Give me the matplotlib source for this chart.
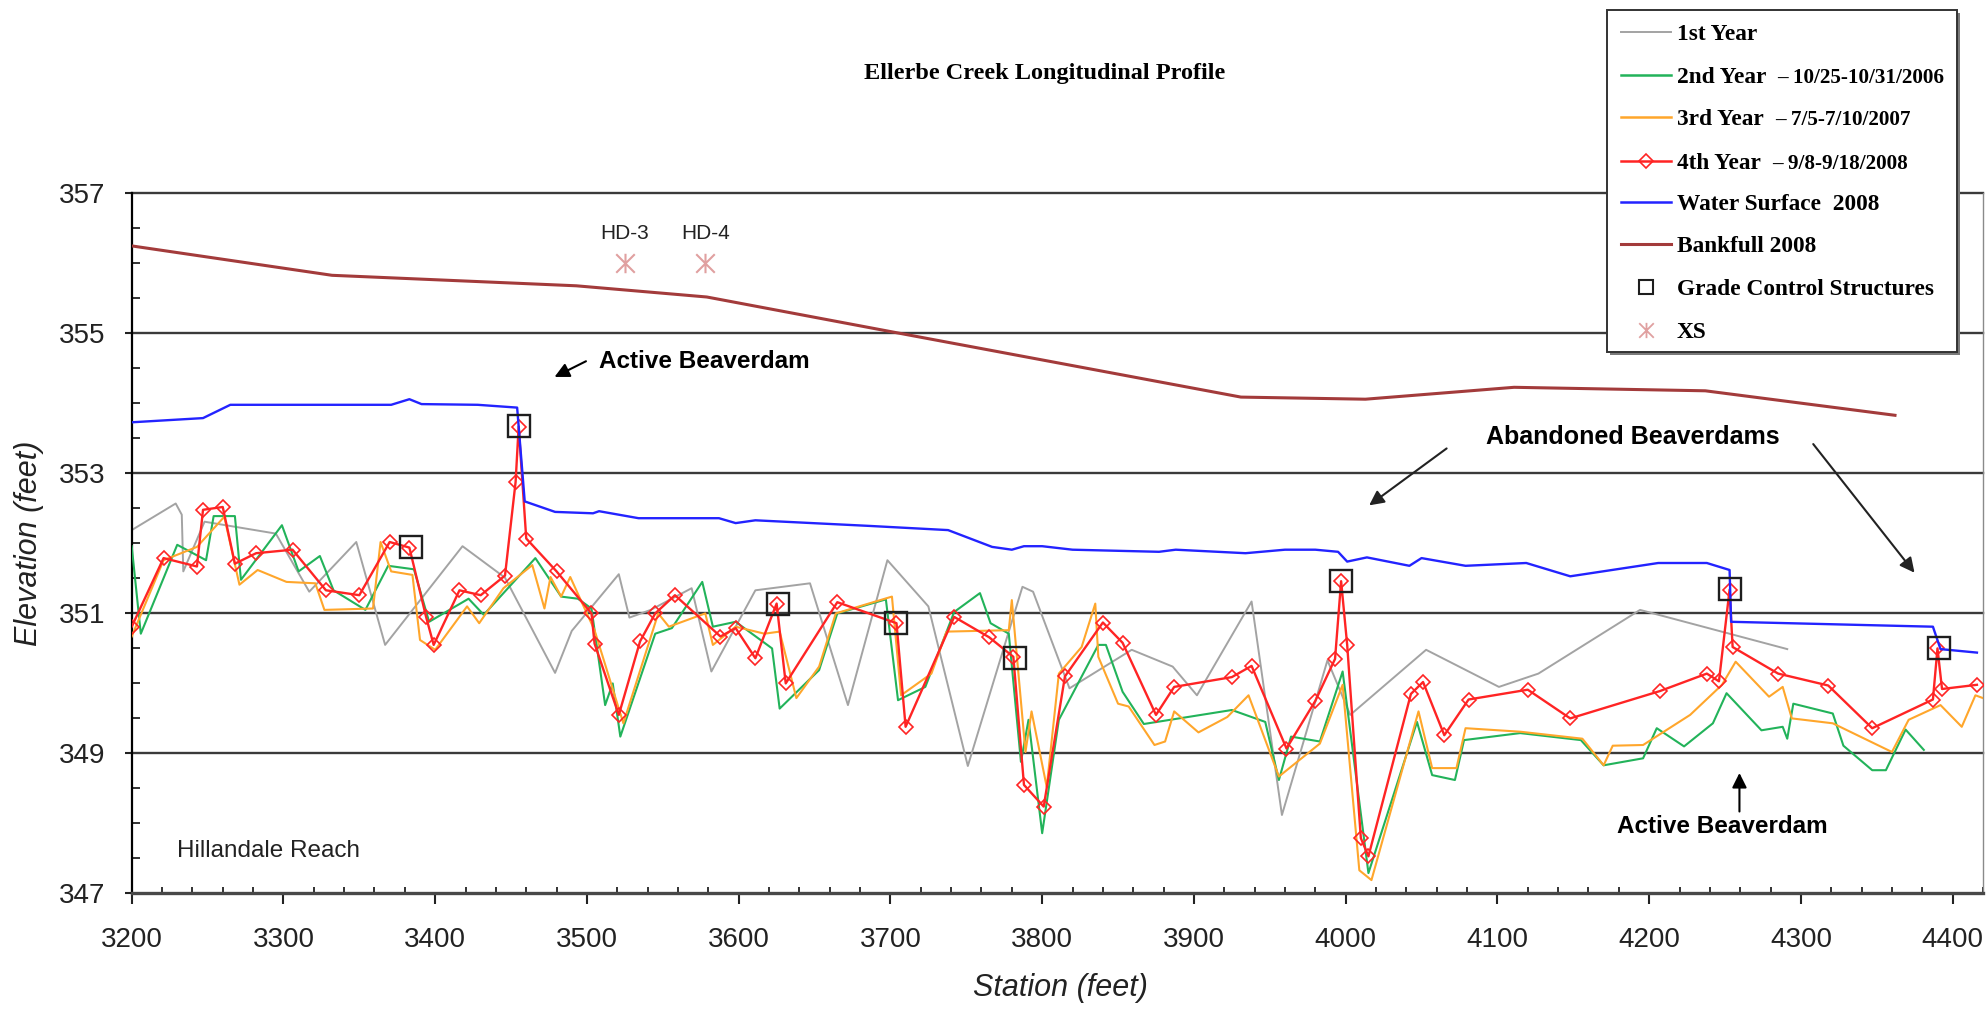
import matplotlib
matplotlib.use('Agg')
import matplotlib.pyplot as plt
from matplotlib.path import Path
from matplotlib.lines import Line2D
from matplotlib.patches import Rectangle
from matplotlib.ticker import MultipleLocator, FormatStrFormatter

plt.rcParams['font.family'] = ['Liberation Sans', 'DejaVu Sans']

# ---------------- data ----------------
yr1_x = [3200, 3229, 3233, 3234, 3248, 3295, 3317, 3348, 3367, 3418, 3446, 3479, 3490, 3521, 3528,
         3542, 3569, 3582, 3611, 3647, 3672, 3698, 3725, 3751, 3787, 3794, 3818, 3859, 3886, 3902,
         3938, 3958, 3988, 4003, 4053, 4101, 4127, 4194, 4291]
yr1_y = [352.18, 352.56, 352.40, 351.59, 352.30, 352.13, 351.30, 352.01, 350.54, 351.95, 351.50, 350.14,
         350.74, 351.55, 350.93, 351.04, 351.35, 350.16, 351.32, 351.42, 349.68, 351.75, 351.09, 348.81,
         351.37, 351.30, 349.92, 350.47, 350.23, 349.82, 351.16, 348.11, 350.32, 349.54, 350.47, 349.94,
         350.13, 351.04, 350.48]

yr2_x = [3200, 3206, 3230, 3249, 3254, 3268, 3272, 3299, 3310, 3324, 3333, 3354, 3369, 3386, 3396,
         3422, 3432, 3466, 3483, 3494, 3503, 3512, 3517, 3522, 3545, 3556, 3576, 3583, 3598, 3622,
         3627, 3653, 3665, 3697, 3705, 3723, 3742, 3759, 3766, 3778, 3786, 3791, 3800, 3811, 3837,
         3842, 3853, 3867, 3925, 3947, 3956, 3964, 3983, 3998, 4015, 4047, 4057, 4072, 4078, 4115,
         4155, 4170, 4196, 4205, 4223, 4242, 4251, 4274, 4288, 4291, 4295, 4321, 4328, 4347, 4356,
         4369, 4381]
yr2_y = [351.95, 350.70, 351.97, 351.75, 352.38, 352.38, 351.47, 352.25, 351.59, 351.81, 351.32, 351.04,
         351.67, 351.62, 350.87, 351.20, 350.97, 351.78, 351.23, 351.20, 351.06, 349.68, 349.99, 349.23,
         350.70, 350.78, 351.44, 350.80, 350.87, 350.49, 349.63, 350.18, 350.99, 351.19, 349.75, 349.94,
         351.01, 351.28, 350.85, 350.70, 348.87, 349.47, 347.85, 349.47, 350.54, 350.54, 349.87, 349.41,
         349.61, 349.44, 348.61, 349.23, 349.16, 350.16, 347.28, 349.44, 348.68, 348.61, 349.18, 349.28,
         349.18, 348.82, 348.92, 349.35, 349.09, 349.42, 349.85, 349.32, 349.37, 349.20, 349.70, 349.56,
         349.10, 348.75, 348.75, 349.33, 349.04]

yr3_x = [3200, 3221, 3243, 3261, 3271, 3283, 3302, 3321, 3327, 3359, 3364, 3371, 3385, 3390, 3400,
         3421, 3429, 3445, 3464, 3472, 3476, 3483, 3489, 3505, 3524, 3547, 3554, 3578, 3583, 3598,
         3617, 3627, 3638, 3653, 3664, 3701, 3707, 3727, 3737, 3778, 3780, 3789, 3793, 3803, 3811,
         3826, 3835, 3837, 3850, 3857, 3874, 3881, 3887, 3903, 3922, 3936, 3956, 3983, 3998, 4009,
         4017, 4048, 4057, 4073, 4079, 4115, 4156, 4170, 4176, 4196, 4227, 4248, 4257, 4279, 4288,
         4294, 4321, 4360, 4371, 4392, 4406, 4415, 4420]
yr3_y = [350.66, 351.75, 351.94, 352.37, 351.40, 351.61, 351.44, 351.42, 351.04, 351.06, 352.01, 351.59,
         351.54, 350.61, 350.47, 351.09, 350.85, 351.35, 351.68, 351.06, 351.51, 351.23, 351.51, 350.75,
         349.42, 350.99, 350.80, 350.99, 350.54, 350.80, 350.70, 350.73, 349.78, 350.23, 350.99, 351.23,
         349.82, 350.13, 350.73, 350.75, 351.18, 349.01, 349.59, 348.51, 350.13, 350.51, 351.13, 350.37,
         349.70, 349.66, 349.11, 349.16, 349.59, 349.29, 349.51, 349.82, 348.66, 349.13, 349.97, 347.32,
         347.18, 349.59, 348.78, 348.78, 349.35, 349.30, 349.20, 348.82, 349.10, 349.11, 349.54, 349.97,
         350.30, 349.80, 349.94, 349.49, 349.42, 349.01, 349.47, 349.68, 349.37, 349.82, 349.78]

yr4_x = [3200, 3221, 3243, 3247, 3260, 3268, 3282, 3306, 3328, 3350, 3370, 3383, 3394, 3399, 3416,
         3430, 3446, 3453, 3455, 3460, 3480, 3503, 3505, 3521, 3535, 3545, 3558, 3588, 3598, 3611,
         3625, 3631, 3665, 3704, 3710, 3742, 3765, 3781, 3788, 3801, 3815, 3840, 3853, 3875, 3887,
         3925, 3938, 3961, 3980, 3993, 3997, 4001, 4010, 4015, 4043, 4051, 4065, 4081, 4120, 4148,
         4207, 4238, 4246, 4253, 4255, 4285, 4318, 4347, 4387, 4390, 4393, 4416]
yr4_y = [350.80, 351.78, 351.66, 352.47, 352.51, 351.70, 351.85, 351.90, 351.32, 351.25, 352.01, 351.93,
         350.94, 350.54, 351.32, 351.25, 351.53, 352.87, 353.66, 352.06, 351.59, 350.99, 350.56, 349.54,
         350.59, 350.99, 351.25, 350.66, 350.78, 350.35, 351.13, 349.99, 351.15, 350.85, 349.37, 350.94,
         350.65, 350.37, 348.54, 348.23, 350.09, 350.86, 350.57, 349.54, 349.94, 350.08, 350.24, 349.06,
         349.74, 350.34, 351.45, 350.54, 347.78, 347.52, 349.84, 350.01, 349.25, 349.76, 349.90, 349.49,
         349.88, 350.13, 350.02, 351.33, 350.51, 350.13, 349.96, 349.35, 349.76, 350.49, 349.91, 349.97]

ws_x = [3200, 3247, 3265, 3371, 3383, 3391, 3428, 3454, 3459, 3479, 3504, 3508, 3534, 3587, 3598,
        3611, 3686, 3738, 3767, 3780, 3788, 3800, 3820, 3877, 3888, 3934, 3960, 3980, 3995, 4001,
        4014, 4042, 4050, 4079, 4119, 4148, 4206, 4238, 4253, 4254, 4387, 4392, 4416]
ws_y = [353.72, 353.78, 353.97, 353.97, 354.05, 353.98, 353.97, 353.93, 352.59, 352.44, 352.42, 352.45,
        352.35, 352.35, 352.28, 352.32, 352.24, 352.18, 351.94, 351.90, 351.95, 351.95, 351.90, 351.87,
        351.90, 351.85, 351.90, 351.90, 351.87, 351.73, 351.79, 351.67, 351.78, 351.67, 351.71, 351.52,
        351.71, 351.71, 351.61, 350.87, 350.80, 350.48, 350.43]

bf_x = [3200, 3332, 3493, 3579, 3704, 3931, 4013, 4111, 4237, 4362]
bf_y = [356.24, 355.82, 355.67, 355.51, 355.00, 354.08, 354.05, 354.22, 354.17, 353.82]

gcs_x = [3384, 3455, 3626, 3704, 3782, 3997, 4253, 4391]
gcs_y = [351.94, 353.67, 351.12, 350.86, 350.36, 351.46, 351.34, 350.49]

xs_x = [3525, 3578]
xs_y = [356.0, 356.0]
xs_labels = ['HD-3', 'HD-4']

x_ticks = list(range(3200, 4401, 100))
y_ticks = [347, 349, 351, 353, 355, 357]

legend_labels = ['1st Year', '2nd Year', '3rd Year', '4th Year', 'Water Surface  2008',
                 'Bankfull 2008', 'Grade Control Structures', 'XS']
legend_suffix = ['', '\u2013 10/25-10/31/2006', '\u2013 7/5-7/10/2007', '\u2013 9/8-9/18/2008',
                 '', '', '', '']

# ---------------- styles ----------------
C_GRAY = '#a3a3a3'
C_GREEN = '#22b35a'
C_ORANGE = '#ffa62b'
C_RED = '#ff2424'
C_BLUE = '#2323ff'
C_BROWN = '#a33b3b'
C_XS = '#e0a0a0'
SERIF = ['Liberation Serif', 'DejaVu Serif']

star = Path([(-1, -1), (1, 1), (-1, 1), (1, -1), (0, -1.05), (0, 1.05)],
            [Path.MOVETO, Path.LINETO, Path.MOVETO, Path.LINETO, Path.MOVETO, Path.LINETO])

W, H = 1986, 1014
fig = plt.figure(figsize=(W / 100, H / 100), dpi=100)


def fx(px):
    return px / W


def fy(py):
    return 1 - py / H


ax = fig.add_axes([fx(131.7), fy(892.7), (1983 - 131.7) / W, 700 / H])
ax.set_xlim(3200, 4420)
ax.set_ylim(347, 357)

for yv in [349, 351, 353, 355, 357]:
    ax.axhline(yv, color='#3a3a3a', lw=1.7, zorder=1, clip_on=False)

ax.plot(yr1_x, yr1_y, color=C_GRAY, lw=1.4, zorder=2)
ax.plot(yr2_x, yr2_y, color=C_GREEN, lw=1.5, zorder=3)
ax.plot(yr3_x, yr3_y, color=C_ORANGE, lw=1.5, zorder=3)
ax.plot(yr4_x, yr4_y, color=C_RED, lw=1.7, marker='D', ms=7.5, mfc='none', mec=C_RED, mew=1.2, zorder=4)
ax.plot(ws_x, ws_y, color=C_BLUE, lw=1.7, zorder=4)
ax.plot(bf_x, bf_y, color=C_BROWN, lw=2.2, zorder=4)
ax.plot(gcs_x, gcs_y, ls='none', marker='s', ms=16.5, mfc='none', mec='#1e1e1e', mew=1.7, zorder=5)
ax.plot(xs_x, xs_y, ls='none', marker=star, ms=14, mec=C_XS, mew=1.5, zorder=5)
for xv, lab in zip(xs_x, xs_labels):
    ax.text(xv, 356.42, lab, ha='center', va='center', fontsize=15, color='#222')

# annotations
ax.text(3508, 354.59, 'Active Beaverdam', fontsize=17.5, fontweight='bold', ha='left', va='center')
ax.annotate('', xy=(3477, 354.35), xytext=(3501, 354.61),
            arrowprops=dict(arrowstyle='-|>', color='black', lw=1.5, mutation_scale=22))
ax.text(4189, 353.51, 'Abandoned Beaverdams', fontsize=18, fontweight='bold', ha='center', va='center')
ax.annotate('', xy=(4014, 352.51), xytext=(4068, 353.37),
            arrowprops=dict(arrowstyle='-|>', color='#222', lw=1.5, mutation_scale=22))
ax.annotate('', xy=(4376, 351.54), xytext=(4307, 353.44),
            arrowprops=dict(arrowstyle='-|>', color='#222', lw=1.5, mutation_scale=22))
ax.text(4248, 347.94, 'Active Beaverdam', fontsize=17.5, fontweight='bold', ha='center', va='center')
ax.annotate('', xy=(4259.5, 348.75), xytext=(4259.5, 348.12),
            arrowprops=dict(arrowstyle='-|>', color='black', lw=1.5, mutation_scale=22))
ax.text(3230, 347.59, 'Hillandale Reach', fontsize=17.5, ha='left', va='center', color='#222')

# axes, ticks
ax.spines['top'].set_visible(False)
ax.spines['left'].set_color('black')
ax.spines['left'].set_linewidth(1.6)
ax.spines['bottom'].set_color('#484848')
ax.spines['bottom'].set_linewidth(2.4)
ax.spines['right'].set_color('#8a8a8a')
ax.spines['right'].set_linewidth(1.0)

ax.set_xticks(x_ticks)
ax.set_yticks(y_ticks)
ax.xaxis.set_minor_locator(MultipleLocator(20))
ax.yaxis.set_minor_locator(MultipleLocator(0.5))
ax.yaxis.set_major_formatter(FormatStrFormatter('%d'))
ax.tick_params(axis='x', which='major', direction='out', length=8, width=1.5, pad=17,
               labelsize=20, color='#222')
ax.tick_params(axis='x', which='minor', direction='in', length=4.5, width=1.3, color='#222')
ax.tick_params(axis='y', which='major', direction='out', length=5, width=1.5, pad=14,
               labelsize=20, color='#222')
ax.tick_params(axis='y', which='minor', direction='in', length=6, width=1.3, color='#222')
ax.tick_params(which='both', top=False, right=False)
for lab in ax.get_xticklabels() + ax.get_yticklabels():
    lab.set_color('#222')

fig.text(fx(29), fy(543), 'Elevation (feet)', rotation=90, style='italic', fontsize=22,
         ha='center', va='center', color='#222')
fig.text(fx(1060), fy(988), 'Station (feet)', style='italic', fontsize=22,
         ha='center', va='center', color='#222')
fig.text(fx(1045), fy(73), 'Ellerbe Creek Longitudinal Profile', family=SERIF,
         fontweight='bold', fontsize=17.5, ha='center', va='center')

# ---------------- legend (drawn manually) ----------------
lx0, ly0, lx1, ly1 = 1607, 10, 1957, 352
fig.add_artist(Rectangle((fx(lx0 + 3), fy(ly1 + 3)), (lx1 - lx0) / W, (ly1 - ly0) / H,
                         transform=fig.transFigure, facecolor='#7a7a7a', edgecolor='none', zorder=9))
fig.add_artist(Rectangle((fx(lx0), fy(ly1)), (lx1 - lx0) / W, (ly1 - ly0) / H,
                         transform=fig.transFigure, facecolor='white', edgecolor='#333333', lw=1.4, zorder=10))
rows = [32.3, 75, 117.3, 160.7, 201.7, 244.3, 287.3, 330]
handles = [dict(color=C_GRAY, lw=1.4), dict(color=C_GREEN, lw=1.8), dict(color=C_ORANGE, lw=1.8),
           dict(color=C_RED, lw=1.8), dict(color=C_BLUE, lw=1.8), dict(color=C_BROWN, lw=2.2)]
for i, ry in enumerate(rows):
    if i < 6:
        fig.add_artist(Line2D([fx(1621), fx(1671)], [fy(ry), fy(ry)], transform=fig.transFigure,
                              zorder=11, **handles[i]))
    if i == 3:
        fig.add_artist(Line2D([fx(1646)], [fy(ry)], transform=fig.transFigure, ls='none', marker='D',
                              ms=7, mfc='none', mec=C_RED, mew=1.2, zorder=12))
    if i == 6:
        fig.add_artist(Line2D([fx(1646)], [fy(ry)], transform=fig.transFigure, ls='none', marker='s',
                              ms=10, mfc='none', mec='#1e1e1e', mew=1.5, zorder=12))
    if i == 7:
        fig.add_artist(Line2D([fx(1646)], [fy(ry)], transform=fig.transFigure, ls='none', marker=star,
                              ms=11, mec=C_XS, mew=1.3, zorder=12))

renderer = fig.canvas.get_renderer()
for lab, suf, ry in zip(legend_labels, legend_suffix, rows):
    t = fig.text(fx(1677), fy(ry + 8), lab, family=SERIF,
                 fontweight='bold', fontsize=16.8, ha='left', va='baseline', zorder=12)
    if suf:
        bb = t.get_window_extent(renderer=renderer)
        fig.text((bb.x1 + 11) / W, fy(ry + 8), suf, family=SERIF,
                 fontweight='bold', fontsize=15.2, ha='left', va='baseline', zorder=12)

fig.savefig('out.png', dpi=100)
